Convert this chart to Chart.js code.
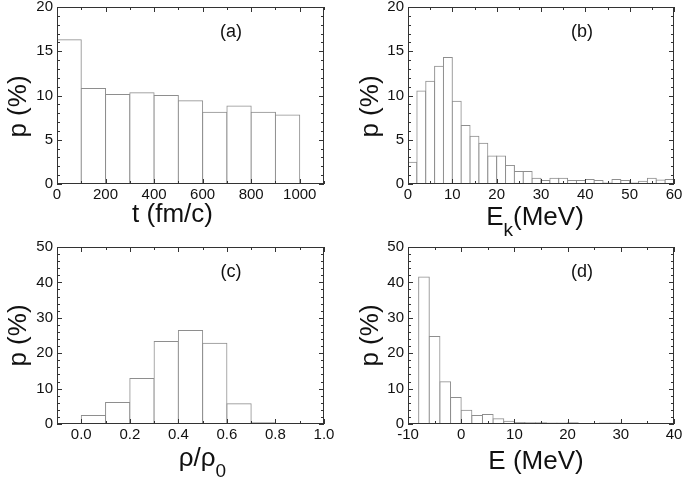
<!DOCTYPE html>
<html><head><meta charset="utf-8">
<script src="https://cdn.jsdelivr.net/npm/chart.js@4.4.1/dist/chart.umd.min.js"></script>
<style>
html,body{margin:0;padding:0;background:#fff;}
#wrap{position:relative;width:685px;height:481px;overflow:hidden;background:#fff;}
#wrap canvas{position:absolute;left:0;top:0;}
</style></head><body>
<div id="wrap">
<canvas id="ca" width="685" height="481"></canvas>
<canvas id="cb" width="685" height="481"></canvas>
<canvas id="cc" width="685" height="481"></canvas>
<canvas id="cd" width="685" height="481"></canvas>
</div>
<script>
// ---- data (bin centres and percentages) ----
// (a) emission time t (fm/c), bin width 100
const tCenters = [50,150,250,350,450,550,650,750,850,950];
const pTime    = [16.3,10.8,10.1,10.3,10.0,9.4,8.1,8.8,8.1,7.8];
// (b) kinetic energy Ek (MeV), bin width 2
const ekCenters = [1,3,5,7,9,11,13,15,17,19,21,23,25,27,29,31,33,35,37,39,41,43,45,47,49,51,53,55,57,59];
const pEk       = [2.45,10.5,11.6,13.3,14.3,9.35,6.6,5.4,4.6,3.15,3.15,2.1,1.4,1.4,0.65,0.4,0.65,0.65,0.4,0.4,0.5,0.4,0.1,0.5,0.4,0.1,0.3,0.65,0.45,0.5];
// (c) density rho/rho0, bin width 0.1
const rhoCenters = [0.05,0.15,0.25,0.35,0.45,0.55,0.65,0.75,0.85];
const pRho       = [2.4,6.05,12.85,23.3,26.4,22.8,5.7,0.35,0.1];
// (d) energy E (MeV), bin width 2
const eCenters = [-7,-5,-3,-1,1,3,5,7,9,11,13,15,17,19,21,23,25,27,29,31,33,35,37,39];
const pE       = [41.5,24.7,11.9,7.5,3.9,2.4,2.65,1.5,0.75,0.4,0.35,0.35,0.3,0.3,0.35,0.15,0.1,0.25,0.3,0.15,0.1,0.05,0.05,0.05];

// tick values
const xTicksA = [0,200,400,600,800,1000];
const xTicksB = [0,10,20,30,40,50,60];
const xTicksC = [0.0,0.2,0.4,0.6,0.8,1.0];
const xTicksD = [-10,0,10,20,30,40];
const yTicksTop = [0,5,10,15,20];
const yTicksBottom = [0,10,20,30,40,50];

const FONT = '"Liberation Sans", Arial, Helvetica, sans-serif';
Chart.defaults.font.family = FONT;

function decoPlugin(d) {
  return {
    id: 'panelDeco',
    afterDatasetsDraw(chart) {
      const ctx = chart.ctx, ca = chart.chartArea, x = chart.scales.x, y = chart.scales.y;
      const L = Math.round(ca.left), R = Math.round(ca.right), T = Math.round(ca.top), B = Math.round(ca.bottom);
      ctx.save();
      ctx.strokeStyle = '#333';
      ctx.lineWidth = 1;
      ctx.beginPath();
      const line = (x1, y1, x2, y2) => { ctx.moveTo(x1, y1); ctx.lineTo(x2, y2); };
      // minor + major ticks, inward, all four sides
      for (let k = Math.ceil(x.min / d.xMinor - 1e-6); k * d.xMinor <= x.max + 1e-9; k++) {
        const v = k * d.xMinor;
        const major = Math.abs(v / d.xMajor - Math.round(v / d.xMajor)) < 1e-6;
        const len = major ? 5 : 3;
        const px = Math.round(x.getPixelForValue(v)) + 0.5;
        line(px, B, px, B - len);
        line(px, T, px, T + len);
      }
      for (let k = Math.ceil(y.min / d.yMinor - 1e-6); k * d.yMinor <= y.max + 1e-9; k++) {
        const v = k * d.yMinor;
        const major = Math.abs(v / d.yMajor - Math.round(v / d.yMajor)) < 1e-6;
        const len = major ? 5 : 3;
        const py = Math.round(y.getPixelForValue(v)) + 0.5;
        line(L, py, L + len, py);
        line(R, py, R - len, py);
      }
      ctx.stroke();
      ctx.strokeRect(L + 0.5, T + 0.5, R - L - 1, B - T - 1);

      ctx.fillStyle = '#111';
      // y title
      ctx.save();
      ctx.font = '26px ' + FONT;
      ctx.textAlign = 'center';
      ctx.textBaseline = 'middle';
      ctx.translate(ca.left + d.yTitleDx, (ca.top + ca.bottom) / 2 + d.yTitleDy);
      ctx.rotate(-Math.PI / 2);
      ctx.fillText(d.yTitle, 0, 0);
      ctx.restore();
      // x title with optional subscripts
      const mainF = '26px ' + FONT, subF = '19px ' + FONT;
      let w = 0;
      d.xTitle.forEach(p => { ctx.font = p[1] ? subF : mainF; w += ctx.measureText(p[0]).width; });
      let cx = (ca.left + ca.right) / 2 + d.xTitleDx - w / 2;
      const base = ca.bottom + d.xTitleDy;
      ctx.textAlign = 'left';
      ctx.textBaseline = 'alphabetic';
      d.xTitle.forEach(p => {
        ctx.font = p[1] ? subF : mainF;
        ctx.fillText(p[0], cx, p[1] ? base + 11 : base);
        cx += ctx.measureText(p[0]).width;
      });
      // panel label
      ctx.font = '18px ' + FONT;
      ctx.textAlign = 'center';
      ctx.textBaseline = 'middle';
      ctx.fillText(d.label, ca.left + 174, ca.top + 25);
      ctx.restore();
    }
  };
}

function panel(id, c) {
  const a = c.area;
  return new Chart(document.getElementById(id), {
    type: 'bar',
    data: {
      labels: c.labels,
      datasets: [{
        data: c.values,
        backgroundColor: '#ffffff',
        borderColor: '#8e8e8e',
        borderWidth: 1,
        borderSkipped: 'bottom',
        inflateAmount: 0.5,
        barPercentage: 1,
        categoryPercentage: 1
      }]
    },
    options: {
      responsive: false,
      animation: false,
      devicePixelRatio: 1,
      events: [],
      layout: { padding: { left: a.l - 57, top: a.t, right: 685 - a.r, bottom: 481 - a.b - 50 } },
      plugins: { legend: { display: false }, tooltip: { enabled: false } },
      scales: {
        x: {
          type: 'linear', min: c.xMin, max: c.xMax, offset: false,
          grid: { display: false, drawTicks: false }, border: { display: false },
          afterBuildTicks: s => { s.ticks = c.xTicks.map(v => ({ value: v })); },
          ticks: { callback: c.xFmt, padding: 2, maxRotation: 0, autoSkip: false, font: { size: 15 }, color: '#111' },
          afterFit: s => { s.height = 50; s.paddingLeft = 0; s.paddingRight = 0; }
        },
        y: {
          type: 'linear', min: c.yMin, max: c.yMax,
          grid: { display: false, drawTicks: false }, border: { display: false },
          afterBuildTicks: s => { s.ticks = c.yTicks.map(v => ({ value: v })); },
          ticks: { padding: 4, autoSkip: false, font: { size: 15 }, color: '#111' },
          afterFit: s => { s.width = 57; s.paddingTop = 0; s.paddingBottom = 0; }
        }
      }
    },
    plugins: [decoPlugin(c.deco)]
  });
}

const intFmt = v => String(v);

panel('ca', {
  labels: tCenters, values: pTime, xMin: 0, xMax: 1100, xTicks: xTicksA, xFmt: intFmt,
  yMin: 0, yMax: 20, yTicks: yTicksTop,
  area: { l: 57, t: 7, r: 324, b: 184 },
  deco: { xMinor: 100, xMajor: 200, yMinor: 1, yMajor: 5, yTitle: 'p (%)', yTitleDx: -38, yTitleDy: 11,
          xTitle: [['t (fm/c)', false]], xTitleDx: -18, xTitleDy: 38, label: '(a)' }
});
panel('cb', {
  labels: ekCenters, values: pEk, xMin: 0, xMax: 60, xTicks: xTicksB, xFmt: intFmt,
  yMin: 0, yMax: 20, yTicks: yTicksTop,
  area: { l: 408, t: 7, r: 674, b: 184 },
  deco: { xMinor: 5, xMajor: 10, yMinor: 1, yMajor: 5, yTitle: 'p (%)', yTitleDx: -37, yTitleDy: 11,
          xTitle: [['E', false], ['k', true], ['(MeV)', false]], xTitleDx: -6, xTitleDy: 41, label: '(b)' }
});
panel('cc', {
  labels: rhoCenters, values: pRho, xMin: -0.1, xMax: 1.0, xTicks: xTicksC, xFmt: v => Number(v).toFixed(1),
  yMin: 0, yMax: 50, yTicks: yTicksBottom,
  area: { l: 57, t: 247, r: 324, b: 424 },
  deco: { xMinor: 0.1, xMajor: 0.2, yMinor: 2, yMajor: 10, yTitle: 'p (%)', yTitleDx: -38, yTitleDy: 0,
          xTitle: [['\u03C1/\u03C1', false], ['0', true]], xTitleDx: 12, xTitleDy: 42, label: '(c)' }
});
panel('cd', {
  labels: eCenters, values: pE, xMin: -10, xMax: 40, xTicks: xTicksD, xFmt: intFmt,
  yMin: 0, yMax: 50, yTicks: yTicksBottom,
  area: { l: 408, t: 247, r: 674, b: 424 },
  deco: { xMinor: 5, xMajor: 10, yMinor: 2, yMajor: 10, yTitle: 'p (%)', yTitleDx: -37, yTitleDy: 0,
          xTitle: [['E (MeV)', false]], xTitleDx: -5, xTitleDy: 45, label: '(d)' }
});
</script>
</body></html>
